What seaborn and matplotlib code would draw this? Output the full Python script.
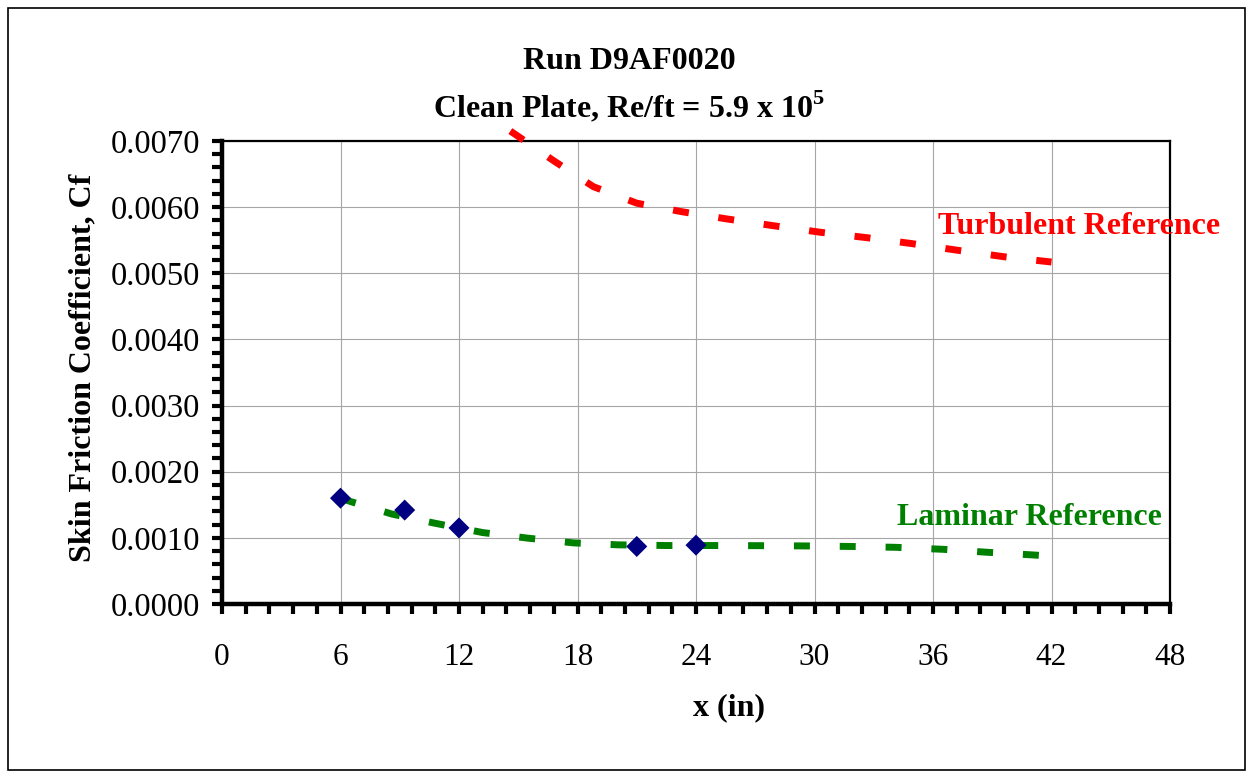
import numpy as np
import pandas as pd
import matplotlib
matplotlib.use('Agg')
import matplotlib.pyplot as plt
import matplotlib.patches as patches
from matplotlib.ticker import MultipleLocator
import seaborn as sns

# ==============================================
# Data
turb_x = [14.6, 14.9, 16.8, 18.8, 21.0, 23.3, 25.6, 27.9, 30.3, 32.6, 34.9, 37.2, 39.6, 42.0]
turb_cf = [0.00715, 0.00709, 0.00670, 0.00631, 0.00606, 0.00593, 0.00582, 0.00572,
           0.00562, 0.00554, 0.00545, 0.00535, 0.00525, 0.00517]

lam_x = [6.0, 6.5, 8.6, 10.8, 13.2, 15.5, 17.8, 20.1, 22.5, 24.8, 27.1, 29.5,
         31.8, 34.1, 36.5, 38.8, 41.1, 42.0]
lam_cf = [0.00160, 0.00155, 0.00136, 0.00122, 0.00108, 0.000995, 0.000924, 0.000894,
          0.000884, 0.000884, 0.000882, 0.000878, 0.000870, 0.000857, 0.000827,
          0.000781, 0.000741, 0.000722]

run_x = [6.0, 9.25, 12.0, 21.0, 24.0]
run_cf = [0.00160, 0.00142, 0.00115, 0.00087, 0.00089]

x_ticks = [0, 6, 12, 18, 24, 30, 36, 42, 48]
y_ticks = [0.0, 0.001, 0.002, 0.003, 0.004, 0.005, 0.006, 0.007]

# ==============================================
# Style
sns.set_style('ticks')
plt.rcParams['font.family'] = ['Liberation Serif', 'DejaVu Serif']
plt.rcParams['mathtext.fontset'] = 'custom'
plt.rcParams['mathtext.rm'] = 'Liberation Serif:bold'
plt.rcParams['mathtext.bf'] = 'Liberation Serif:bold'
for key in ['text.color', 'axes.labelcolor', 'xtick.color', 'ytick.color', 'axes.edgecolor']:
    plt.rcParams[key] = 'black'

fig = plt.figure(figsize=(12.51, 7.73), dpi=100)
ax = fig.add_axes([222 / 1251, 1 - 604 / 773, (1170 - 222) / 1251, (604 - 141) / 773])

turb = pd.DataFrame({'x': turb_x, 'cf': turb_cf})
lam = pd.DataFrame({'x': lam_x, 'cf': lam_cf})
run = pd.DataFrame({'x': run_x, 'cf': run_cf})

sns.lineplot(data=turb, x='x', y='cf', ax=ax, color='#ff0000', linewidth=5,
             linestyle=(0, (2.3, 4.3)), clip_on=False, zorder=3)
sns.lineplot(data=lam, x='x', y='cf', ax=ax, color='#008000', linewidth=5,
             linestyle=(0, (2.3, 4.3)), zorder=3)
sns.scatterplot(data=run, x='x', y='cf', ax=ax, color='#000080', marker='D',
                s=115, edgecolor='none', zorder=4)

ax.set_xlim(0, 48)
ax.set_ylim(0, 0.007)
ax.set_xticks(x_ticks)
ax.set_yticks(y_ticks)
ax.set_xticklabels([str(t) for t in x_ticks])
ax.set_yticklabels(['%.4f' % t for t in y_ticks])
ax.xaxis.set_minor_locator(MultipleLocator(1.2))
ax.yaxis.set_minor_locator(MultipleLocator(0.0002))
ax.grid(True, which='major', color='#a6a6a6', linewidth=0.8)
ax.set_axisbelow(True)

ax.tick_params(axis='both', which='both', direction='out', length=7, width=3,
               color='black', labelcolor='black', bottom=True, left=True,
               top=False, right=False)
ax.tick_params(axis='x', which='major', pad=21, labelsize=22.5)
ax.tick_params(axis='y', which='major', pad=9, labelsize=23.5)
ax.set_xlabel('')
ax.set_ylabel('')

for side in ['left', 'bottom']:
    ax.spines[side].set_linewidth(3.2)
for side in ['top', 'right']:
    ax.spines[side].set_linewidth(1.6)
for s in ax.spines.values():
    s.set_color('black')
    s.set_visible(True)

# Curve labels
ax.text(43.4, 0.00559, 'Turbulent Reference', color='#ff0000', fontsize=23,
        fontweight='bold', ha='center', va='baseline', clip_on=False)
ax.text(40.9, 0.001194, 'Laminar Reference', color='#008000', fontsize=23,
        fontweight='bold', ha='center', va='baseline')

# Titles and axis labels
fig.text(629 / 1251, 1 - 69 / 773, 'Run D9AF0020', fontsize=23, fontweight='bold',
         ha='center', va='baseline')
fig.text(629 / 1251, 1 - 117 / 773, r'Clean Plate, Re/ft = 5.9 x 10$^{5}$', fontsize=23,
         fontweight='bold', ha='center', va='baseline')
fig.text(83 / 1251, 1 - 368 / 773, 'Skin Friction Coefficient, Cf', fontsize=23,
         fontweight='bold', rotation=90, ha='center', va='center')
fig.text(729 / 1251, 1 - 708 / 773, 'x (in)', fontsize=23, fontweight='bold',
         ha='center', va='center')

# Outer frame
fig.patches.append(patches.Rectangle((8 / 1251, 3 / 773), (1245 - 8) / 1251, (770 - 8) / 773,
                                     transform=fig.transFigure, fill=False,
                                     edgecolor='black', linewidth=1.2))

fig.savefig('out.png', dpi=100)
